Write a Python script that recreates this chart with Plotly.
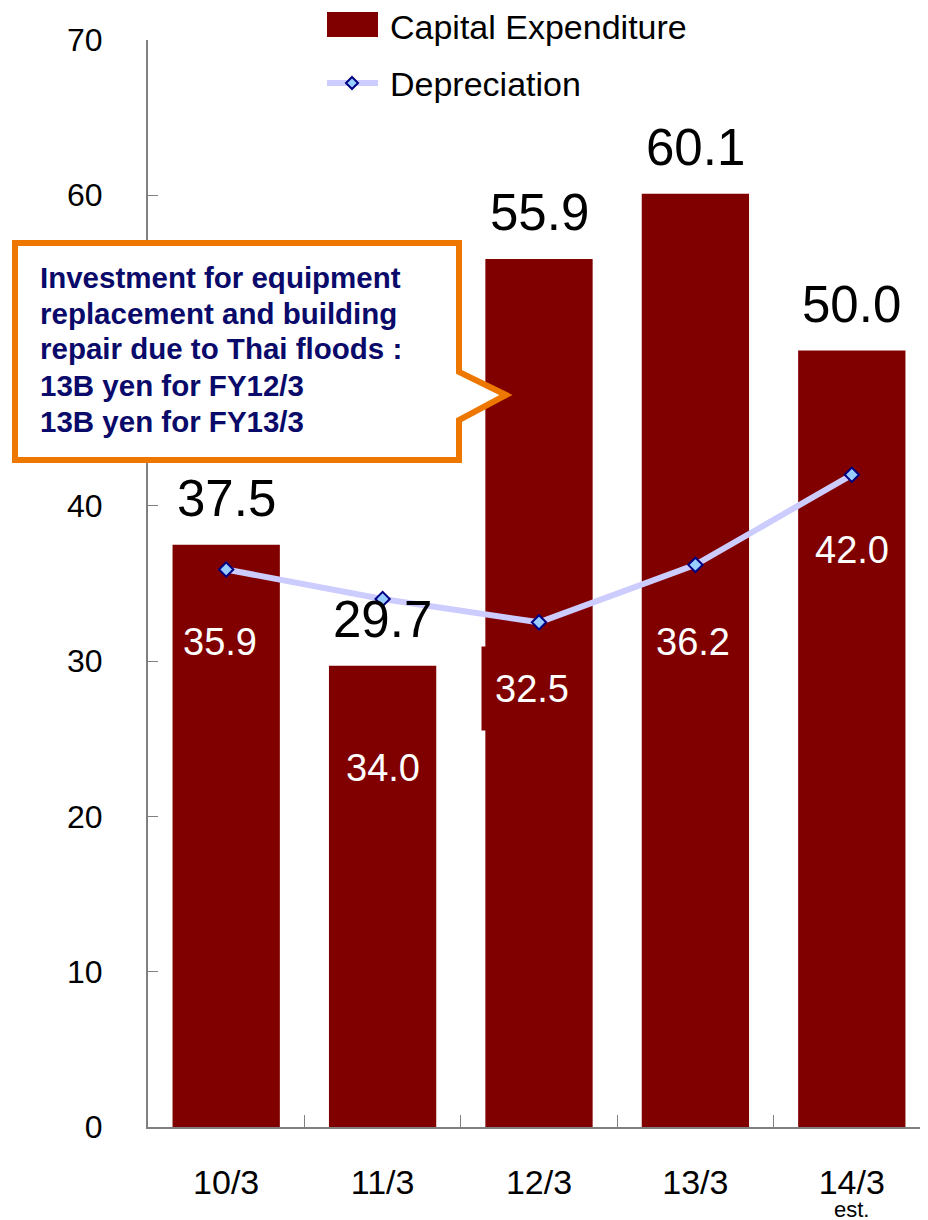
import plotly.graph_objects as go

categories = ["10/3", "11/3", "12/3", "13/3", "14/3"]
capex = [37.5, 29.7, 55.9, 60.1, 50.0]
depreciation = [35.9, 34.0, 32.5, 36.2, 42.0]
capex_labels = ["37.5", "29.7", "55.9", "60.1", "50.0"]
dep_labels = ["35.9", "34.0", "32.5", "36.2", "42.0"]
y_ticks = [0, 10, 20, 30, 40, 50, 60, 70]
callout_lines = [
    "Investment for equipment",
    "replacement and building",
    "repair due to Thai floods :",
    "13B yen for FY12/3",
    "13B yen for FY13/3",
]

# page has an 8px body margin
OFF = 8
W, H = 928, 1220
PL, PR, PT, PB = 148, 930, 40, 1127  # plot area in page pixels
ML, MT = PL - OFF, PT - OFF
MR = W - (PR - OFF)
MB = H - (PB - OFF)
PW, PH = PR - PL, PB - PT


def px(x):
    return (x - PL) / PW


def py(y):
    return (PB - y) / PH


MAROON = "#800000"
LAV = "#ccccff"
NAVY = "#000080"
SANS = "Liberation Sans, Arial, sans-serif"

fig = go.Figure()
fig.add_trace(go.Bar(x=categories, y=capex, marker=dict(color=MAROON, line=dict(width=0)),
                     name="Capital Expenditure", hoverinfo="skip"))
fig.add_trace(go.Scatter(x=categories, y=depreciation, mode="lines+markers",
                         line=dict(color=LAV, width=6),
                         marker=dict(symbol="diamond", size=11, color="#99ccff",
                                     line=dict(color=NAVY, width=2)),
                         name="Depreciation", hoverinfo="skip"))

annotations = []
for c, v, t in zip(categories, capex, capex_labels):
    annotations.append(dict(x=c, y=v, xref="x", yref="y", text=t, showarrow=False,
                            yanchor="middle", yshift=46,
                            font=dict(family=SANS, size=51, color="black")))
dep_shift = [(-6, -72), (0, -169), (-7, -66), (-2, -77), (0, -75)]
for i, (c, v, t) in enumerate(zip(categories, depreciation, dep_labels)):
    xs, ys = dep_shift[i]
    a = dict(x=c, y=v, xref="x", yref="y", text=t, showarrow=False,
             yanchor="middle", xshift=xs, yshift=ys,
             font=dict(family=SANS, size=38, color="white"))
    if c == "12/3":
        a.update(bgcolor=MAROON, width=98, height=81)
    annotations.append(a)

annotations.append(dict(x="14/3", y=py(1209), xref="x", yref="paper", text="est.",
                        showarrow=False, yanchor="middle",
                        font=dict(family=SANS, size=22, color="black")))

for i, line in enumerate(callout_lines):
    annotations.append(dict(x=px(38), y=py(277 + 36 * i), xref="paper", yref="paper",
                            text=line, showarrow=False, xanchor="left", yanchor="middle",
                            font=dict(family=SANS, size=29.5, color="#0a0a6a", weight="bold")))

annotations.append(dict(x=px(388), y=py(27), xref="paper", yref="paper",
                        text="Capital Expenditure", showarrow=False,
                        xanchor="left", yanchor="middle",
                        font=dict(family=SANS, size=34, color="black")))
annotations.append(dict(x=px(388), y=py(84), xref="paper", yref="paper",
                        text="Depreciation", showarrow=False,
                        xanchor="left", yanchor="middle",
                        font=dict(family=SANS, size=34, color="black")))


def path(pts):
    return "M " + " L ".join(f"{px(a):.5f},{py(b):.5f}" for a, b in pts) + " Z"


shapes = [
    dict(type="path", xref="paper", yref="paper", layer="above",
         path=path([(15, 243), (459, 243), (459, 372), (506, 395), (459, 420),
                    (459, 460), (15, 460)]),
         line=dict(color="#ee7700", width=6), fillcolor="white"),
    dict(type="rect", xref="paper", yref="paper", x0=px(327), x1=px(378),
         y0=py(37), y1=py(12), fillcolor=MAROON, line=dict(width=0)),
    dict(type="line", xref="paper", yref="paper", x0=px(327), x1=px(378),
         y0=py(83), y1=py(83), line=dict(color=LAV, width=6)),
    dict(type="path", xref="paper", yref="paper",
         path=path([(352, 77), (358, 83), (352, 89), (346, 83)]),
         fillcolor="#99ccff", line=dict(color=NAVY, width=2)),
]

fig.update_layout(
    width=W, height=H,
    margin=dict(l=ML, r=MR, t=MT, b=MB),
    plot_bgcolor="white", paper_bgcolor="white",
    showlegend=False, bargap=0.314,
    annotations=annotations, shapes=shapes,
    xaxis=dict(type="category", showline=True, linecolor="#808080", linewidth=2,
               ticks="inside", tickson="boundaries", ticklen=12, tickcolor="#808080",
               tickwidth=1, showgrid=False, ticklabelstandoff=24,
               tickfont=dict(family=SANS, size=34, color="black")),
    yaxis=dict(range=[0, 70], tickvals=y_ticks, showline=True, linecolor="#808080",
               linewidth=2, ticks="inside", ticklen=10, tickcolor="#808080",
               tickwidth=1, showgrid=False, zeroline=False, ticklabelstandoff=37,
               tickfont=dict(family=SANS, size=32, color="black")),
)

fig.write_html("out.html")
